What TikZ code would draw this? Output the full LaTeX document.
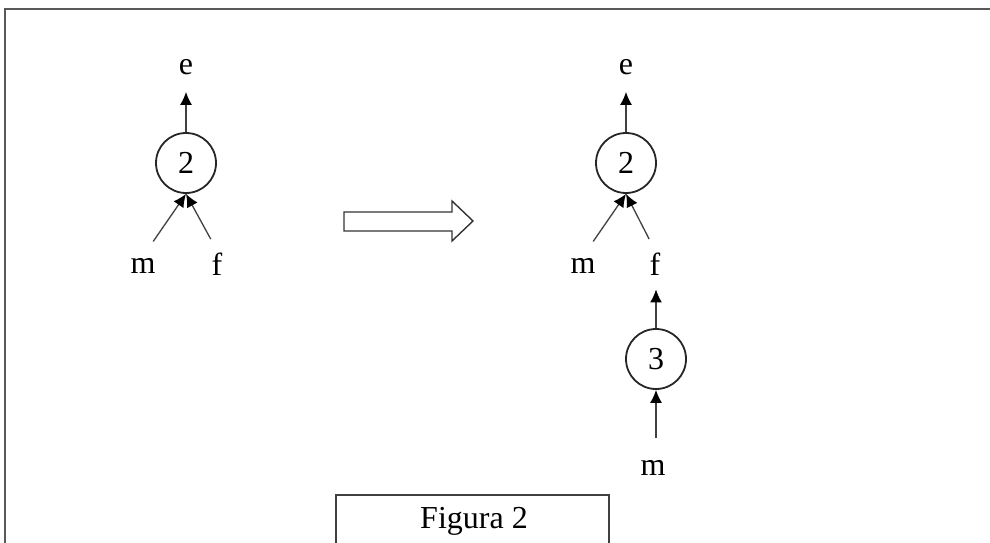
\documentclass[tikz,border=0pt]{standalone}
\usepackage{fontspec}
\setmainfont{Liberation Serif}
\usetikzlibrary{arrows.meta}

\tikzset{
	knot/.style={circle, draw=black!85, line width=1.8pt, minimum size=60pt, inner sep=0pt},
	lbl/.style={inner sep=2pt},
	pil/.style={draw=black!75, line width=1.3pt, -{Latex[length=13pt,width=12pt,color=black]}}
}

\begin{document}
\begin{tikzpicture} [x=1pt, y=-1pt, font=\fontsize{32}{36}\selectfont]
		\useasboundingbox (0, 0) rectangle (990, 543);
		\draw [black!65, line width=2.5pt] (5, 543) -- (5, 9) -- (990, 9);
		% left tree
		\node[knot] (c1) at (186, 163) {2};
		\node[lbl] (e1) at (186, 67) {e};
		\node[lbl] (m1) at (143, 266) {m};
		\node[lbl] (f1) at (217, 264) {f};
			\draw [pil, shorten >=15pt] (c1) -- (e1);
			\draw [pil, shorten <=18pt] (m1.north) -- (c1.south);
			\draw [pil, shorten <=13pt] (f1.north) -- (c1.south);
		% big arrow
		\draw [black!80, line width=1.4pt] (344, 212) -- (452, 212) -- (452, 201) -- (473, 221)
			-- (452, 241) -- (452, 231) -- (344, 231) -- cycle;
		% right tree
		\node[knot] (c2) at (626, 163) {2};
		\node[lbl] (e2) at (626, 67) {e};
		\node[lbl] (m2) at (583, 266) {m};
		\node[lbl] (f2) at (655, 264) {f};
			\draw [pil, shorten >=15pt] (c2) -- (e2);
			\draw [pil, shorten <=18pt] (m2.north) -- (c2.south);
			\draw [pil, shorten <=13pt] (f2.north) -- (c2.south);
		\node[knot] (c3) at (656, 359) {3};
		\node[lbl] (m3) at (653, 468) {m};
			\draw [pil, shorten >=12pt] (c3) -- (c3 |- f2.south);
			\draw [pil, shorten <=20pt] (c3 |- m3.north) -- (c3.south);
		% caption box
		\draw [black!75, line width=1.3pt] (336, 543) -- (336, 495) -- (609, 495) -- (609, 543);
		\node (cap) at (474, 521) {Figura 2};
%	\draw[help lines, step = 50pt] (0, 0) grid (990, 543);
	\end{tikzpicture}
\end{document}
